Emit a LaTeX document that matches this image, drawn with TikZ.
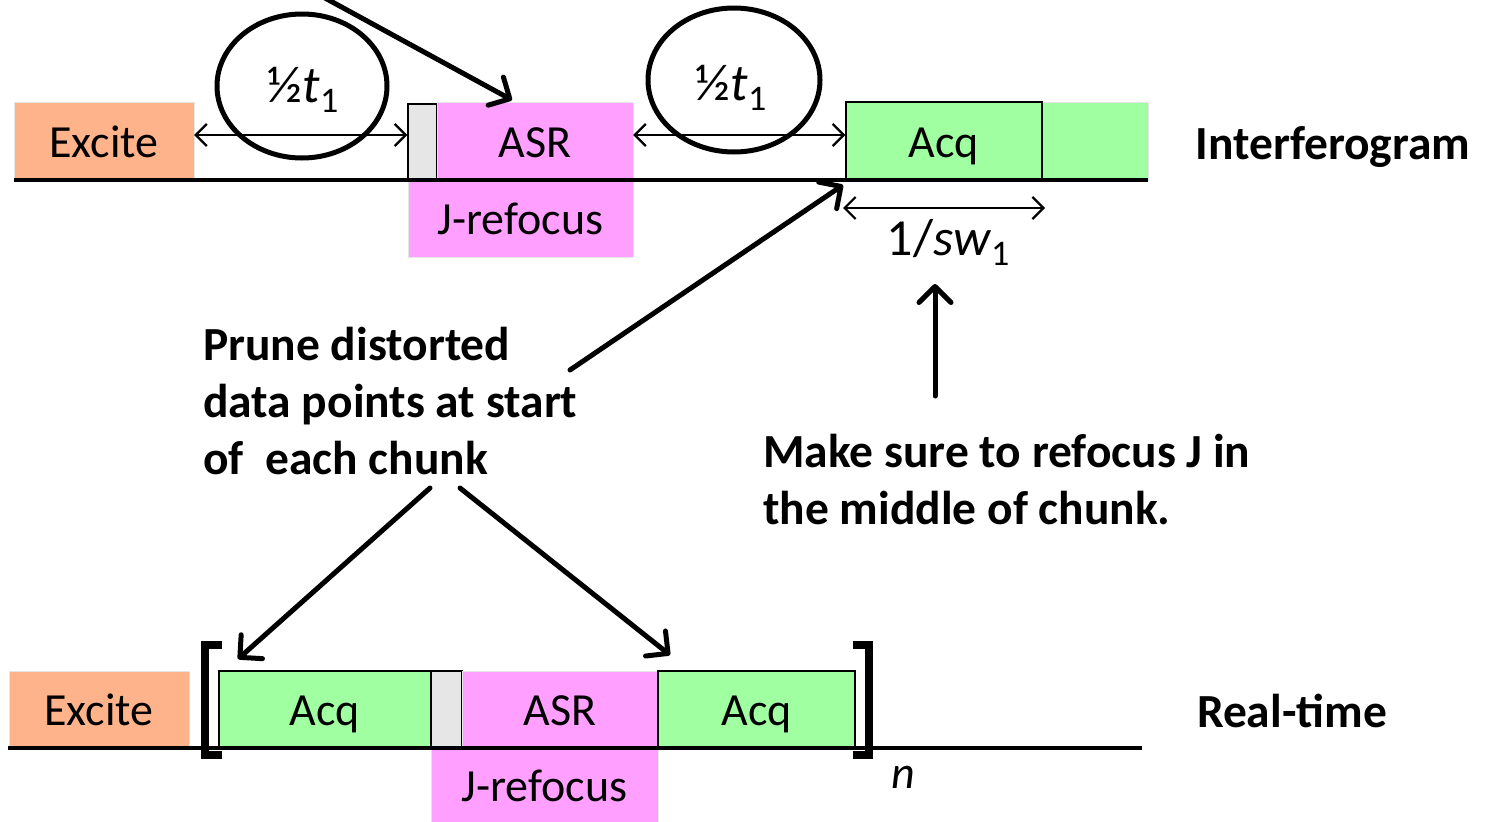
\documentclass[tikz,border=0pt]{standalone}
\usepackage{fontspec}
\setmainfont{Carlito}
\usetikzlibrary{arrows.meta,positioning}
\definecolor{excorange}{RGB}{255,179,138}
\definecolor{asrpink}{RGB}{255,159,255}
\definecolor{acqgreen}{RGB}{160,255,160}
\definecolor{gapgrey}{RGB}{230,230,230}
\newcommand{\subone}{\raisebox{-10pt}{\fontsize{36}{36}\selectfont 1}}

\begin{document}
\begin{tikzpicture}[x=1pt,y=-1pt,
  every node/.style={font=\fontsize{46}{57}\selectfont},
  blk/.style={inner sep=0pt,minimum height=78pt,text height=38pt,text depth=6pt},
  note/.style={font=\fontsize{47.5}{57}\selectfont\bfseries},
  big/.style={font=\fontsize{52}{57}\selectfont},
  span/.style={line width=2.2pt,{Straight Barb[length=11pt,width=22pt]}-{Straight Barb[length=11pt,width=22pt]}},
  callout/.style={line width=5pt,line cap=round,-{Straight Barb[length=16pt,width=32pt,round]}}]
  \useasboundingbox (0,0) rectangle (1492,822);

  % interferogram sequence
  \node[blk,fill=excorange,draw=black!10,minimum width=180pt] (excA) at (104,141) {Excite};
  \node[blk,fill=gapgrey,draw,line width=1.5pt,minimum width=29pt,minimum height=76pt] (gapA) at (422.5,142) {};
  \node[blk,fill=asrpink,draw=black!10,minimum width=196pt] (asrA) at (535,141) {ASR};
  \node[blk,fill=asrpink,draw=black!10,minimum width=225pt,minimum height=77pt] (jA) at (520.5,218.5) {J-refocus};
  \node[blk,fill=acqgreen,draw=black!10,minimum width=106pt] (extA) at (1095,141) {};
  \node[blk,fill=acqgreen,draw,line width=1.5pt,minimum width=196pt] (acqA) at (944,141) {Acq};
  \draw[line width=4pt] (14,180) -- (1148,180);
  \node[note] (igram) at (1333,147) {Interferogram};

  % evolution delays
  \draw[span] (excA.east |- 0,135) -- (gapA.west |- 0,135);
  \draw[span] (asrA.east |- 0,135) -- (acqA.west |- 0,135);
  \draw[line width=5pt] (302,86) ellipse [x radius=85, y radius=72];
  \draw[line width=5pt] (734,80) ellipse [x radius=86, y radius=72];
  \node[big] (hA) at (303,90) {½\textit{t}\subone};
  \node[big] (hB) at (731,88) {½\textit{t}\subone};
  \draw[span] (843,208) -- (1045,208);
  \node[big] (dw) at (948,242) {1/\textit{sw}\subone};

  % notes
  \node[note,align=left,anchor=north west,inner sep=0pt] (prune) at (203,327)
       {Prune distorted\\data points at start\\of\ \ each chunk};
  \node[note,align=left,anchor=north west,inner sep=0pt] (mid) at (763,434)
       {Make sure to refocus J in\\the middle of chunk.};

  % real-time sequence
  \node[blk,fill=excorange,draw=black!10,minimum width=180pt,minimum height=76pt] (excB) at (99,709) {Excite};
  \node[blk,fill=acqgreen,draw,line width=1.5pt,minimum width=212pt,minimum height=77pt] (acqB) at (325,709.5) {Acq};
  \node[blk,fill=gapgrey,draw,line width=1.5pt,minimum width=31pt,minimum height=77pt] (gapB) at (446.5,709.5) {};
  \node[blk,fill=asrpink,draw=black!10,minimum width=196pt,minimum height=77pt] (asrB) at (560,709.5) {ASR};
  \node[blk,fill=asrpink,draw=black!10,minimum width=227pt,minimum height=74pt] (jB) at (544.5,785) {J-refocus};
  \node[blk,fill=acqgreen,draw,line width=1.5pt,minimum width=197pt,minimum height=77pt] (acqC) at (756.5,709.5) {Acq};
  \draw[line width=4pt] (8,748) -- (1142,748);
  \draw[line width=8pt] (222,645) -- (205,645) -- (205,755) -- (222,755);
  \draw[line width=8pt] (853,645) -- (869,645) -- (869,755) -- (853,755);
  \node (n) at (903,777) {\textit{n}};
  \node[note] (rt) at (1292,711) {Real-time};

  % callout arrows
  \coordinate (top) at (325,-2);
  \coordinate (asrtip) at (512,100);
  \coordinate (pruneA) at (570,370);
  \coordinate (acqtip) at (843,185);
  \coordinate (midA) at (935,396);
  \coordinate (dwtip) at (935,284);
  \coordinate (pruneB) at (430,488);
  \coordinate (pruneC) at (460,488);
  \coordinate (acqBtip) at (238,659);
  \coordinate (acqCtip) at (670,655);
  \draw[callout] (top) -- (asrtip);
  \draw[callout] (pruneA) -- (acqtip);
  \draw[callout] (midA) -- (dwtip);
  \draw[callout] (pruneB) -- (acqBtip);
  \draw[callout] (pruneC) -- (acqCtip);
\end{tikzpicture}
\end{document}
